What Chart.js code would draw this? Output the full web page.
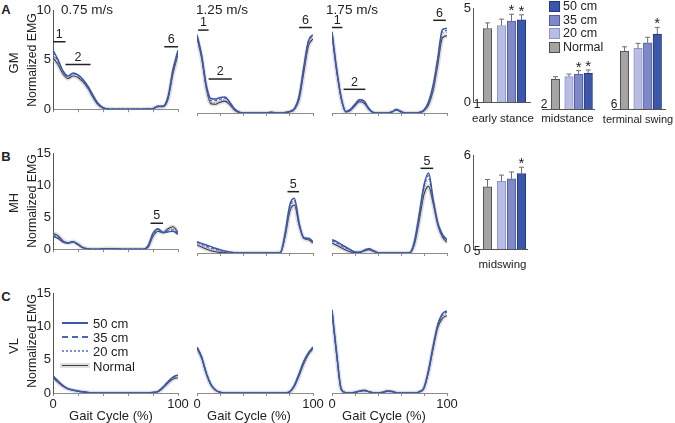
<!DOCTYPE html>
<html>
<head>
<meta charset="utf-8">
<script src="https://cdn.jsdelivr.net/npm/chart.js@4.4.1/dist/chart.umd.min.js"></script>
<style>
  body { margin: 0; background: #fff; width: 675px; height: 423px; position: relative; overflow: hidden;
         font-family: 'Liberation Sans', Arial, sans-serif; color: #222; }
  canvas { position: absolute; }
  .t { position: absolute; white-space: nowrap; line-height: 1; font-size: 12px; }
  .sw { position: absolute; }
</style>
</head>
<body>
<script>
// ---- Data ----
const gaitPct = [0,4,8,12,16,20,24,28,32,36,40,44,48,52,56,60,64,68,72,76,80,84,88,92,96,100];

// GM
const gm075Normal = [5.2,4.5,3.55,3.1,3.35,3.2,2.75,2.1,1.2,0.45,0.1,0.02, 0,0,0,0,0,0,0, 0.02,0.05,0.25,0.25,1.0,3.6,5.5];
const gm075Cm20   = [5.5,4.7,3.7,3.2,3.5,3.3,2.85,2.2,1.3,0.5,0.12,0.02, 0,0,0,0,0,0,0, 0.02,0.05,0.28,0.28,1.1,3.8,5.7];
const gm075Cm35   = [5.7,4.85,3.8,3.3,3.6,3.4,2.95,2.25,1.35,0.55,0.14,0.02, 0,0,0,0,0,0,0, 0.02,0.05,0.3,0.3,1.2,3.9,5.85];
const gm075Cm50   = [5.95,5.0,3.85,3.35,3.65,3.45,3.0,2.3,1.4,0.6,0.15,0.02, 0,0,0,0,0,0,0, 0.02,0.05,0.3,0.3,1.25,4.0,5.95];

const gm125Normal = [7.3,5.3,2.4,0.9,0.85,1.05,1.15,0.85,0.3,0.05,0,0, 0,0,0,0,0.06,0,0, 0.03,0.12,0.35,1.3,3.9,6.5,7.2];
const gm125Cm20   = [7.4,5.4,2.5,1.05,1.0,1.2,1.3,0.95,0.35,0.07,0,0, 0,0,0,0,0.07,0,0, 0.04,0.13,0.38,1.45,4.1,6.7,7.4];
const gm125Cm35   = [7.5,5.5,2.6,1.2,1.2,1.35,1.45,1.05,0.4,0.08,0,0, 0,0,0,0,0.08,0,0, 0.05,0.14,0.4,1.55,4.3,6.9,7.5];
const gm125Cm50   = [7.6,5.6,2.7,1.4,1.35,1.5,1.55,1.1,0.45,0.1,0,0, 0,0,0,0,0.08,0,0, 0.05,0.15,0.42,1.6,4.4,7.0,7.6];

const gm175Normal = [7.6,4.1,1.4,0.1,0.25,0.7,1.1,0.95,0.35,0.03,0,0, 0,0.08,0.3,0.1,0,0,0, 0.03,0.2,0.8,2.2,4.7,7.3,7.5];
const gm175Cm20   = [7.7,4.2,1.45,0.12,0.3,0.75,1.2,1.05,0.4,0.04,0,0, 0,0.09,0.32,0.12,0,0,0, 0.04,0.25,0.95,2.4,5.0,7.7,7.8];
const gm175Cm35   = [7.8,4.25,1.5,0.13,0.33,0.8,1.25,1.1,0.42,0.05,0,0, 0,0.1,0.34,0.14,0,0,0, 0.05,0.28,1.0,2.6,5.2,7.9,8.0];
const gm175Cm50   = [7.9,4.3,1.5,0.15,0.35,0.85,1.3,1.15,0.45,0.05,0,0, 0,0.1,0.35,0.15,0,0,0, 0.05,0.3,1.1,2.7,5.3,8.1,8.2];

// MH
const mh075Normal = [2.5,2.1,1.3,1.0,1.15,0.8,0.25,0.05,0,0,0.05,0.1, 0.08,0.02,0,0,0,0,0, 0.3,2.0,2.8,2.6,3.2,3.5,2.6];
const mh075Cm20   = [2.3,1.9,1.2,0.95,1.1,0.75,0.22,0.05,0,0,0.05,0.09, 0.07,0.02,0,0,0,0,0, 0.35,2.2,3.0,2.6,3.0,3.2,2.5];
const mh075Cm35   = [2.2,1.8,1.15,0.95,1.12,0.72,0.2,0.05,0,0,0.05,0.08, 0.06,0.02,0,0,0,0,0, 0.4,2.4,3.1,2.6,2.85,3.0,2.4];
const mh075Cm50   = [2.0,1.7,1.1,0.95,1.15,0.7,0.2,0.05,0,0,0.04,0.08, 0.06,0.02,0,0,0,0,0, 0.5,2.5,3.2,2.6,2.7,2.8,2.3];

const mh125Normal = [1.2,0.9,0.6,0.35,0.2,0.1,0.05,0,0,0,0,0, 0,0,0,0,0,0,0.1, 2.5,6.2,7.2,4.2,2.2,2.0,1.5];
const mh125Cm20   = [1.4,1.1,0.8,0.55,0.35,0.25,0.12,0.05,0,0,0,0, 0,0,0,0,0,0,0.1, 2.6,6.6,7.6,4.3,2.3,2.1,1.6];
const mh125Cm35   = [1.6,1.3,1.0,0.75,0.55,0.4,0.22,0.1,0.03,0,0,0, 0,0,0,0,0,0,0.1, 2.8,6.9,7.9,4.4,2.3,2.15,1.65];
const mh125Cm50   = [1.7,1.45,1.2,0.95,0.7,0.5,0.3,0.15,0.05,0,0,0, 0,0,0,0,0,0,0.1, 3.0,7.2,8.2,4.5,2.3,2.2,1.7];

const mh175Normal = [1.5,1.15,0.8,0.45,0.15,0.05,0.1,0.3,0.5,0.25,0.02,0, 0,0,0,0,0,0.05,1.5, 5.0,8.8,10.0,7.4,4.2,2.4,1.6];
const mh175Cm20   = [1.7,1.35,1.0,0.65,0.3,0.1,0.1,0.35,0.58,0.3,0.03,0, 0,0,0,0,0,0.08,1.7, 5.4,9.4,11.0,7.6,4.3,2.6,1.8];
const mh175Cm35   = [1.85,1.5,1.15,0.8,0.4,0.12,0.1,0.38,0.62,0.33,0.04,0, 0,0,0,0,0,0.09,1.9, 5.7,9.9,11.6,7.8,4.4,2.7,1.9];
const mh175Cm50   = [2.0,1.7,1.3,0.9,0.5,0.15,0.1,0.4,0.65,0.35,0.05,0, 0,0,0,0,0,0.1,2.0, 6.0,10.2,12.0,8.0,4.5,2.8,2.0];

// VL
const vl075Normal = [2.3,1.6,1.0,0.6,0.4,0.25,0.15,0.06,0,0,0,0, 0,0,0,0,0,0,0, 0,0.05,0.2,0.75,1.5,2.1,2.3];
const vl075Cm20   = [2.4,1.7,1.05,0.62,0.42,0.27,0.16,0.07,0,0,0,0, 0,0,0,0,0,0,0, 0,0.07,0.22,0.8,1.6,2.2,2.45];
const vl075Cm35   = [2.5,1.75,1.1,0.64,0.44,0.29,0.17,0.08,0,0,0,0, 0,0,0,0,0,0,0, 0,0.08,0.24,0.85,1.65,2.3,2.6];
const vl075Cm50   = [2.6,1.8,1.1,0.65,0.45,0.3,0.18,0.08,0,0,0,0, 0,0,0,0,0,0,0, 0,0.1,0.25,0.9,1.7,2.4,2.7];

const vl125Normal = [6.7,5.2,2.9,1.2,0.4,0.1,0,0,0,0,0,0, 0,0,0,0,0,0,0, 0,0.15,1.0,2.6,4.4,5.8,6.6];
const vl125Cm20   = [6.8,5.3,2.95,1.25,0.42,0.1,0,0,0,0,0,0, 0,0,0,0,0,0,0, 0,0.17,1.1,2.75,4.55,5.9,6.75];
const vl125Cm35   = [6.85,5.35,3.0,1.28,0.44,0.1,0,0,0,0,0,0, 0,0,0,0,0,0,0, 0,0.19,1.15,2.85,4.65,5.95,6.85];
const vl125Cm50   = [6.9,5.4,3.0,1.3,0.45,0.1,0,0,0,0,0,0, 0,0,0,0,0,0,0, 0,0.2,1.2,2.9,4.7,6.0,6.9];

const vl175Normal = [12.0,5.8,0.55,0.05,0,0.08,0.25,0.35,0.18,0.04,0,0.08, 0.25,0.2,0.04,0,0,0,0, 0.15,0.7,3.2,6.7,9.8,11.2,11.6];
const vl175Cm20   = [12.2,5.9,0.58,0.05,0,0.09,0.28,0.38,0.19,0.05,0,0.09, 0.28,0.22,0.05,0,0,0,0, 0.18,0.75,3.3,6.9,10.0,11.5,11.9];
const vl175Cm35   = [12.4,6.0,0.6,0.05,0,0.1,0.3,0.4,0.2,0.05,0,0.1, 0.3,0.25,0.05,0,0,0,0, 0.2,0.8,3.4,7.0,10.2,11.7,12.1];
const vl175Cm50   = [12.5,6.0,0.6,0.05,0,0.1,0.3,0.4,0.2,0.05,0,0.1, 0.3,0.25,0.05,0,0,0,0, 0.2,0.8,3.5,7.1,10.3,11.9,12.3];

// phase markers: [label, from %, to %, level]
const gm075Phases = [['1', 0, 10, 6.8], ['2', 10, 30, 4.5], ['6', 89, 100, 6.3]];
const gm125Phases = [['1', 1, 10, 8.05], ['2', 10, 30, 3.3], ['6', 88, 99, 8.3]];
const gm175Phases = [['1', 0, 9, 8.3], ['2', 10, 29, 2.3], ['6', 88, 99, 9.0]];
const mh075Phases = [['5', 78, 88, 4.05]];
const mh125Phases = [['5', 78, 88, 9.2]];
const mh175Phases = [['5', 77, 88, 12.7]];

// bar summaries (Normal, 20 cm, 35 cm, 50 cm)
const conditions = ['Normal', '20 cm', '35 cm', '50 cm'];
const gmEarlyStance = [3.91, 4.07, 4.31, 4.37];
const gmEarlyStanceErr = [0.30, 0.34, 0.36, 0.27];
const gmEarlyStanceSig = [false, false, true, true];
const gmMidstance = [1.47, 1.60, 1.73, 1.77];
const gmMidstanceErr = [0.13, 0.13, 0.17, 0.16];
const gmMidstanceSig = [false, false, true, true];
const gmTerminalSwing = [2.86, 3.00, 3.28, 3.71];
const gmTerminalSwingErr = [0.22, 0.25, 0.27, 0.33];
const gmTerminalSwingSig = [false, false, false, true];
const mhMidswing = [3.97, 4.33, 4.48, 4.82];
const mhMidswingErr = [0.47, 0.39, 0.44, 0.40];
const mhMidswingSig = [false, false, false, true];

const speeds = ['0.75 m/s', '1.25 m/s', '1.75 m/s'];
const muscles = ['GM', 'MH', 'VL'];
const panelLetters = ['A', 'B', 'C'];

// ---- Styles / layout ----
Chart.defaults.font.family = "'Liberation Sans', Arial, sans-serif";
Chart.defaults.font.size = 12;
Chart.defaults.color = '#222';
Chart.defaults.animation = false;
Chart.defaults.responsive = false;
Chart.defaults.plugins.legend.display = false;
Chart.defaults.plugins.tooltip.enabled = false;

const lineColors = { band: 'rgba(185,185,185,0.45)', normal: '#3a3a3a', c20: '#7b8bd0', c35: '#4d66b8', c50: '#3a56ad' };
const barFill = ['#a4a4a4', '#b9bde3', '#8089c8', '#3c56a9'];
const barEdge = ['#4f4f4f', '#8f95c8', '#525da4', '#223884'];
const barSlots = [0, 1.4, 2.4, 3.4];   // bar centres, in 10px units

const cols = [{ L: 53, R: 178 }, { L: 187, R: 313 }, { L: 322, R: 447 }];
const rows = [{ T: 10, B: 113, max: 10 }, { T: 153, B: 253, max: 15 }, { T: 293, B: 393, max: 15 }];

function addCanvas(left, top, w, h) {
    const c = document.createElement('canvas');
    c.width = w; c.height = h;
    c.style.left = left + 'px';
    c.style.top = top + 'px';
    document.body.appendChild(c);
    return c;
}

function addText(text, x, y, opts = {}) {
    const d = document.createElement('div');
    d.className = 't';
    d.textContent = text;
    d.style.left = x + 'px';
    d.style.top = y + 'px';
    d.style.fontSize = (opts.size || 12) + 'px';
    if (opts.bold) d.style.fontWeight = 'bold';
    d.style.transform = 'translate(' + (opts.left ? '0' : '-50%') + ',-50%)' + (opts.rotate ? ' rotate(-90deg)' : '');
    document.body.appendChild(d);
}

// labels for the horizontal phase markers
const phaseLabels = {
    id: 'phaseLabels',
    afterDatasetsDraw(chart) {
        const { ctx, scales: { x, y } } = chart;
        ctx.save();
        ctx.font = "12.5px 'Liberation Sans', Arial, sans-serif";
        ctx.fillStyle = '#222';
        ctx.textAlign = 'center';
        ctx.textBaseline = 'bottom';
        chart.data.datasets.forEach(ds => {
            if (!ds.phase) return;
            const xm = x.getPixelForValue((ds.data[0].x + ds.data[1].x) / 2);
            ctx.fillText(ds.phase, xm, y.getPixelForValue(ds.data[0].y) - 1);
        });
        ctx.restore();
    }
};

function linePanel(row, col, series, phases) {
    const isBottom = row === 2;
    const padL = col === 0 ? 33 : 10, padR = 12, padT = 10, axisH = isBottom ? 22 : 4;
    const { L, R } = cols[col], { T, B, max } = rows[row];
    const canvas = addCanvas(L - padL, T - padT, R - L + padL + padR, B - T + padT + axisH + 2);
    const pts = vals => gaitPct.map((p, i) => ({ x: p, y: vals[i] }));

    const datasets = [];
    phases.forEach(m => datasets.push({
        data: [{ x: m[1], y: m[3] }, { x: m[2], y: m[3] }],
        borderColor: '#222', borderWidth: 1.5, phase: m[0]
    }));
    datasets.push(
        { data: pts(series[3]), borderColor: lineColors.c50, borderWidth: 1.5 },
        { data: pts(series[2]), borderColor: lineColors.c35, borderWidth: 1.3, borderDash: [3, 2] },
        { data: pts(series[1]), borderColor: lineColors.c20, borderWidth: 1.3, borderDash: [1, 1.5] },
        { data: pts(series[0]), borderColor: lineColors.normal, borderWidth: 1.1 },
        { data: pts(series[0]), borderColor: lineColors.band, borderWidth: 4.5 }
    );

    new Chart(canvas, {
        type: 'line',
        data: { datasets },
        options: {
            layout: { padding: { left: col === 0 ? 0 : padL, right: padR, top: padT, bottom: 2 } },
            elements: { point: { radius: 0 }, line: { cubicInterpolationMode: 'monotone' } },
            scales: {
                x: {
                    type: 'linear', min: 0, max: 100, offset: false,
                    border: { display: true, color: '#8c8c8c' },
                    grid: { display: true, drawOnChartArea: false, drawTicks: true, tickLength: 3, color: '#8c8c8c' },
                    ticks: {
                        stepSize: 20, display: isBottom, autoSkip: false, maxRotation: 0, padding: 1,
                        font: { size: 13 },
                        callback: v => (v === 0 || v === 100) ? v : ''
                    },
                    afterFit: s => { s.height = axisH; }
                },
                y: {
                    min: 0, max: max, display: col === 0,
                    border: { display: true, color: '#555' },
                    grid: { display: false, drawTicks: false },
                    ticks: { stepSize: 5, padding: 2, font: { size: 13 } },
                    afterFit: s => { s.width = padL; }
                }
            }
        },
        plugins: [phaseLabels]
    });
}

// whiskers and significance stars on bars
const errorBars = {
    id: 'errorBars',
    afterDatasetsDraw(chart) {
        const { ctx, scales: { y } } = chart;
        const ds = chart.data.datasets[0];
        const meta = chart.getDatasetMeta(0);
        ctx.save();
        ctx.strokeStyle = '#6e6e6e';
        ctx.lineWidth = 1;
        meta.data.forEach((bar, i) => {
            const top = y.getPixelForValue(ds.data[i].y + ds.errors[i]);
            ctx.beginPath();
            ctx.moveTo(bar.x, bar.y);
            ctx.lineTo(bar.x, top);
            ctx.moveTo(bar.x - 2.5, top);
            ctx.lineTo(bar.x + 2.5, top);
            ctx.stroke();
            if (ds.stars[i]) {
                ctx.fillStyle = '#222';
                ctx.font = "15px 'Liberation Sans', Arial, sans-serif";
                ctx.textAlign = 'center';
                ctx.textBaseline = 'alphabetic';
                ctx.fillText('*', bar.x, top + 1);
            }
        });
        ctx.restore();
    }
};

function barPanel(box, values, errors, stars, showAxis, ymax) {
    const padL = showAxis ? 22 : 2;
    const canvas = addCanvas(box.L - padL, box.T - 10, box.R - box.L + padL + 4, box.B - box.T + 13);
    const min = -(box.c - box.L) / 10;
    new Chart(canvas, {
        type: 'bar',
        data: {
            labels: conditions,
            datasets: [{
                data: barSlots.map((s, i) => ({ x: s, y: values[i] })),
                backgroundColor: barFill, borderColor: barEdge, borderWidth: 1,
                borderSkipped: 'start', barThickness: 8.5,
                errors: errors, stars: stars
            }]
        },
        options: {
            layout: { padding: { left: showAxis ? 0 : padL, right: 4, top: 10, bottom: 2 } },
            scales: {
                x: {
                    type: 'linear', min: min, max: min + (box.R - box.L) / 10, offset: false,
                    grid: { display: false, drawTicks: false }, ticks: { display: false },
                    border: { display: true, color: '#555' },
                    afterFit: s => { s.height = 1; }
                },
                y: {
                    min: 0, max: ymax, display: showAxis,
                    grid: { display: false, drawTicks: false },
                    border: { display: true, color: '#555' },
                    ticks: { stepSize: ymax, padding: 2, font: { size: 13 } },
                    afterFit: s => { s.width = padL; }
                }
            }
        },
        plugins: [errorBars]
    });
}

// ---- Build the figure ----
linePanel(0, 0, [gm075Normal, gm075Cm20, gm075Cm35, gm075Cm50], gm075Phases);
linePanel(0, 1, [gm125Normal, gm125Cm20, gm125Cm35, gm125Cm50], gm125Phases);
linePanel(0, 2, [gm175Normal, gm175Cm20, gm175Cm35, gm175Cm50], gm175Phases);
linePanel(1, 0, [mh075Normal, mh075Cm20, mh075Cm35, mh075Cm50], mh075Phases);
linePanel(1, 1, [mh125Normal, mh125Cm20, mh125Cm35, mh125Cm50], mh125Phases);
linePanel(1, 2, [mh175Normal, mh175Cm20, mh175Cm35, mh175Cm50], mh175Phases);
linePanel(2, 0, [vl075Normal, vl075Cm20, vl075Cm35, vl075Cm50], []);
linePanel(2, 1, [vl125Normal, vl125Cm20, vl125Cm35, vl125Cm50], []);
linePanel(2, 2, [vl175Normal, vl175Cm20, vl175Cm35, vl175Cm50], []);

barPanel({ L: 473, R: 530, T: 8, B: 109, c: 487.5 }, gmEarlyStance, gmEarlyStanceErr, gmEarlyStanceSig, true, 5);
barPanel({ L: 540, R: 594, T: 8, B: 109, c: 554 }, gmMidstance, gmMidstanceErr, gmMidstanceSig, false, 5);
barPanel({ L: 610, R: 665, T: 8, B: 109, c: 623 }, gmTerminalSwing, gmTerminalSwingErr, gmTerminalSwingSig, false, 5);
barPanel({ L: 473, R: 527, T: 155, B: 256, c: 487.5 }, mhMidswing, mhMidswingErr, mhMidswingSig, true, 6);

// panel letters, row names, axis titles
const rowCenters = [60, 201, 341];
const letterY = [9, 156, 296];
const muscleY = [63, 203, 346];
panelLetters.forEach((t, i) => addText(t, 6, letterY[i], { bold: true, size: 13 }));
muscles.forEach((t, i) => addText(t, 12.5, muscleY[i], { rotate: true, size: 13 }));
rowCenters.forEach(y => addText('Normalized EMG', 31.5, y, { rotate: true, size: 12.3 }));

const speedX = [87, 222, 352];
speeds.forEach((t, i) => addText(t, speedX[i], 10, { size: 13.5 }));
const gaitX = [111, 249, 384];
gaitX.forEach(x => addText('Gait Cycle (%)', x, 415, { size: 13 }));

// bar category labels and phase numbers
addText('early stance', 503, 119, { size: 11.5 });
addText('midstance', 567.5, 119, { size: 11.5 });
addText('terminal swing', 638, 119, { size: 11 });
addText('midswing', 502.5, 265, { size: 11.5 });
addText('1', 477, 104, { size: 12 });
addText('2', 544, 104, { size: 12 });
addText('6', 614, 104, { size: 12 });
addText('5', 477, 251, { size: 12 });

// bar legend
const barLegendY = [6, 19.5, 33, 46.5];
[3, 2, 1, 0].forEach((k, i) => {
    const s = document.createElement('div');
    s.className = 'sw';
    s.style.cssText = `left:549px;top:${barLegendY[i] - 5}px;width:9px;height:9px;background:${barFill[k]};border:1px solid ${barEdge[k]};`;
    document.body.appendChild(s);
    addText(conditions[k], 563, barLegendY[i], { left: true, size: 12.5 });
});

// line legend in VL panel
const lineLegendY = [323, 336.5, 351, 366];
const lineLegendCss = [
    `border-top:2px solid ${lineColors.c50};`,
    `border-top:2px dashed ${lineColors.c35};`,
    `border-top:2px dotted ${lineColors.c20};`,
    `border-top:1px solid ${lineColors.normal};box-shadow:0 0 0 2px ${lineColors.band};`
];
[3, 2, 1, 0].forEach((k, i) => {
    const s = document.createElement('div');
    s.className = 'sw';
    s.style.cssText = `left:62px;top:${lineLegendY[i] - 1}px;width:26px;height:0;` + lineLegendCss[i];
    document.body.appendChild(s);
    addText(conditions[k], 93, lineLegendY[i], { left: true, size: 13 });
});
</script>
</body>
</html>
